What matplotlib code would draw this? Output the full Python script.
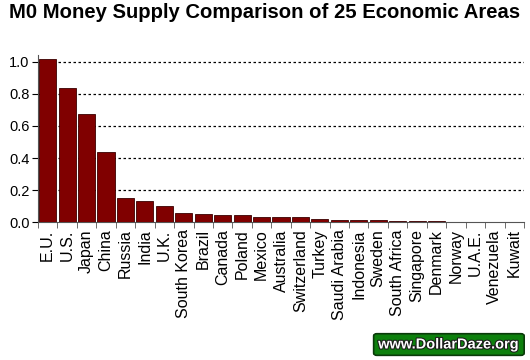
import matplotlib.pyplot as plt
import matplotlib.patheffects as pe
from matplotlib.patches import FancyBboxPatch

plt.rcParams["font.family"] = ["Liberation Sans", "DejaVu Sans"]

COUNTRIES = [
    "E.U.", "U.S.", "Japan", "China", "Russia", "India", "U.K.", "South Korea",
    "Brazil", "Canada", "Poland", "Mexico", "Australia", "Switzerland", "Turkey",
    "Saudi Arabia", "Indonesia", "Sweden", "South Africa", "Singapore", "Denmark",
    "Norway", "U.A.E.", "Venezuela", "Kuwait",
]
M0_SHARE = [
    1.016, 0.833, 0.675, 0.436, 0.150, 0.131, 0.100, 0.058,
    0.052, 0.046, 0.046, 0.034, 0.034, 0.034, 0.021,
    0.015, 0.015, 0.015, 0.009, 0.009, 0.009,
    0.003, 0.003, 0.003, 0.001,
]
Y_TICKS = [0.0, 0.2, 0.4, 0.6, 0.8, 1.0]

fig = plt.figure(figsize=(5.3, 3.6), dpi=100)
ax = fig.add_axes([0.0717, 0.382, 0.917, 0.465])

x = list(range(len(COUNTRIES)))
ax.bar(x, M0_SHARE, width=0.88, color="#800000", edgecolor="#3a0000", linewidth=0.6, zorder=3)

ax.set_xlim(-0.5, len(COUNTRIES) - 0.5)
ax.set_ylim(0, 1.04)
ax.set_yticks(Y_TICKS)
ax.set_yticklabels([f"{v:.1f}" for v in Y_TICKS], fontsize=10.5)
for v in Y_TICKS[1:]:
    ax.axhline(v, color="black", linestyle=(0, (2, 2)), linewidth=0.9, zorder=1)

# category labels centred, tick marks on the bar boundaries
ax.set_xticks(x)
ax.set_xticklabels(COUNTRIES, rotation=90, fontsize=11.5)
ax.tick_params(axis="x", length=0, pad=5)
ax.set_xticks([i - 0.5 for i in range(len(COUNTRIES) + 1)], minor=True)
ax.tick_params(axis="x", which="minor", length=4, color="#555555")
ax.tick_params(axis="y", length=4, direction="out", pad=2)

for side in ("top", "right"):
    ax.spines[side].set_visible(False)
ax.spines["left"].set_color("#555555")
ax.spines["bottom"].set_color("#555555")

fig.text(0.5, 0.965, "M0 Money Supply Comparison of 25 Economic Areas",
         ha="center", va="center", fontsize=14.6, fontweight="bold")

box = FancyBboxPatch((0.705, 0.013), 0.284, 0.06, boxstyle="round,pad=0,rounding_size=0.006",
                     transform=fig.transFigure, facecolor="#0d800d", edgecolor="#0a3a0a",
                     linewidth=1.2)
fig.patches.append(box)
fig.text(0.847, 0.043, "www.DollarDaze.org", ha="center", va="center", fontsize=10.5,
         fontweight="bold", color="white",
         path_effects=[pe.withStroke(linewidth=1.5, foreground="#1a1a1a")])

fig.savefig("out.png", dpi=100)
